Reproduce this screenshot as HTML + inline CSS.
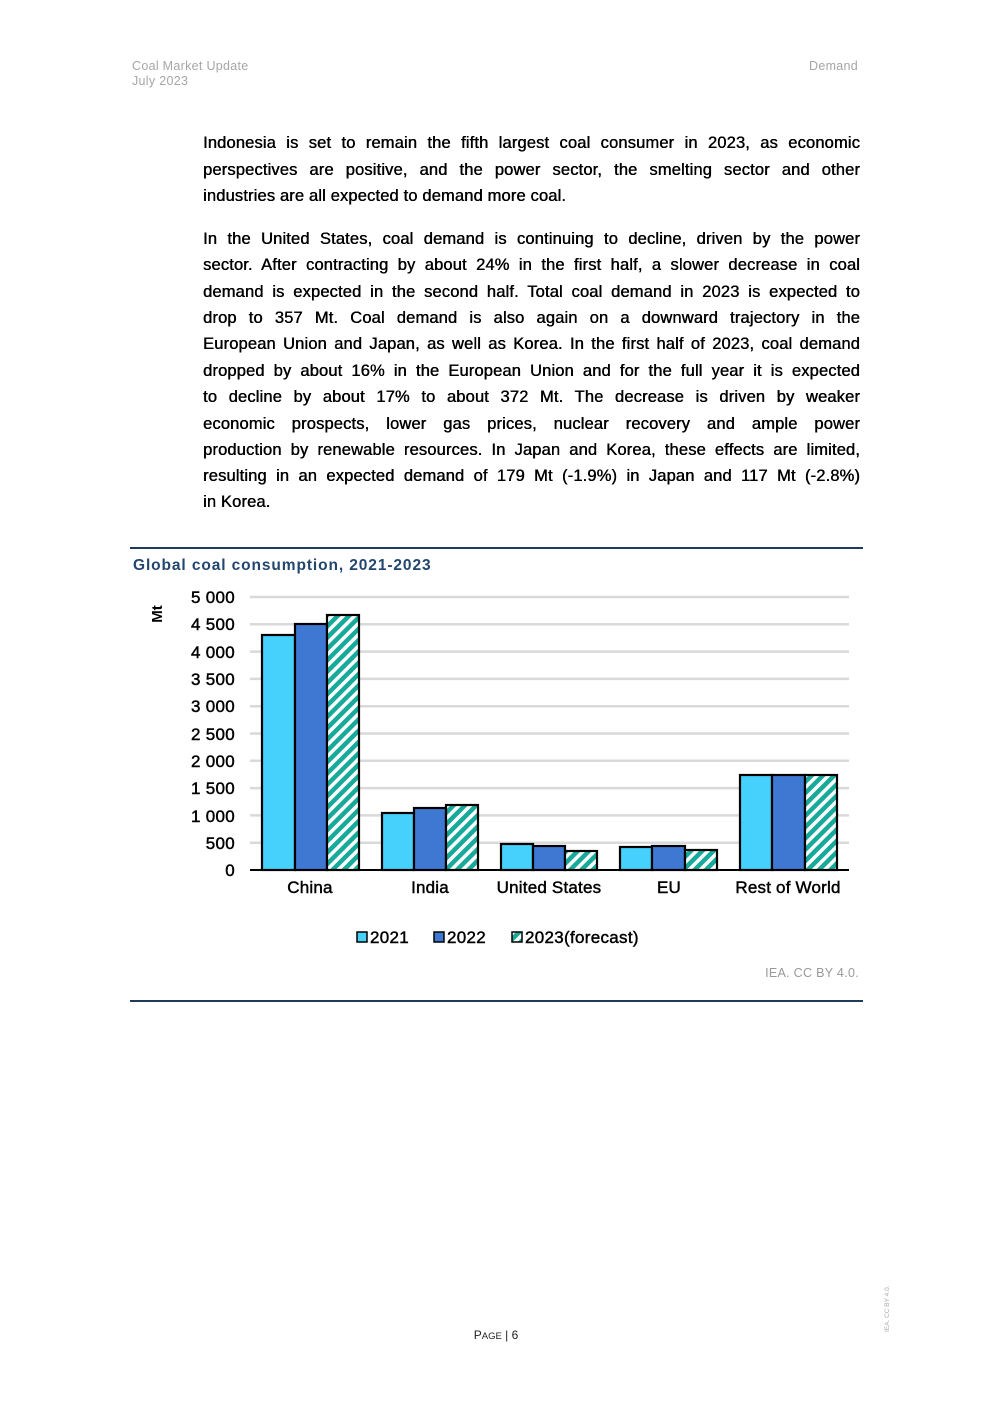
<!DOCTYPE html><html><head><meta charset="utf-8"><style>
body{margin:0;width:992px;height:1403px;background:#fff;position:relative;font-family:"Liberation Sans",sans-serif;overflow:hidden}
.h{position:absolute;color:#a6a6a6;font-size:12.5px;line-height:15px;letter-spacing:0.3px}
.l{position:absolute;left:203px;width:657px;font-size:16.5px;color:#000;text-align:justify;text-align-last:justify;white-space:nowrap;line-height:20px;text-shadow:0.35px 0 0 #000,0 0.2px 0 #000;letter-spacing:0.15px}
.l.e{text-align-last:left}
</style></head><body>
<div class="h" style="left:132px;top:59px">Coal Market Update<br>July 2023</div>
<div class="h" style="left:809px;top:59px">Demand</div>
<div class="l" style="top:133px">Indonesia is set to remain the fifth largest coal consumer in 2023, as economic</div>
<div class="l" style="top:160px">perspectives are positive, and the power sector, the smelting sector and other</div>
<div class="l e" style="top:186px">industries are all expected to demand more coal.</div>
<div class="l" style="top:229px">In the United States, coal demand is continuing to decline, driven by the power</div>
<div class="l" style="top:255px">sector. After contracting by about 24% in the first half, a slower decrease in coal</div>
<div class="l" style="top:282px">demand is expected in the second half. Total coal demand in 2023 is expected to</div>
<div class="l" style="top:308px">drop to 357 Mt. Coal demand is also again on a downward trajectory in the</div>
<div class="l" style="top:334px">European Union and Japan, as well as Korea. In the first half of 2023, coal demand</div>
<div class="l" style="top:361px">dropped by about 16% in the European Union and for the full year it is expected</div>
<div class="l" style="top:387px">to decline by about 17% to about 372 Mt. The decrease is driven by weaker</div>
<div class="l" style="top:414px">economic prospects, lower gas prices, nuclear recovery and ample power</div>
<div class="l" style="top:440px">production by renewable resources. In Japan and Korea, these effects are limited,</div>
<div class="l" style="top:466px">resulting in an expected demand of 179 Mt (-1.9%) in Japan and 117 Mt (-2.8%)</div>
<div class="l e" style="top:492px">in Korea.</div>
<svg style="position:absolute;left:0;top:0" width="992" height="1403" font-family="Liberation Sans, sans-serif">
<defs><pattern id="p" width="8" height="8" patternUnits="userSpaceOnUse" patternTransform="rotate(45)"><rect width="8" height="8" fill="#fff"/><rect width="4.5" height="8" fill="#17a99a"/></pattern></defs>
<line x1="130" y1="548" x2="863" y2="548" stroke="#1f3a5a" stroke-width="2"/>
<line x1="130" y1="1001" x2="863" y2="1001" stroke="#1f3a5a" stroke-width="2"/>
<text x="133" y="570" font-size="15.5" font-weight="bold" fill="#23466f" letter-spacing="0.9">Global coal consumption, 2021-2023</text>
<g stroke="#d9d9d9" stroke-width="2.5">
<line x1="250" x2="849" y1="597" y2="597"/><line x1="250" x2="849" y1="624.3" y2="624.3"/><line x1="250" x2="849" y1="651.6" y2="651.6"/><line x1="250" x2="849" y1="678.9" y2="678.9"/><line x1="250" x2="849" y1="706.2" y2="706.2"/><line x1="250" x2="849" y1="733.5" y2="733.5"/><line x1="250" x2="849" y1="760.8" y2="760.8"/><line x1="250" x2="849" y1="788.1" y2="788.1"/><line x1="250" x2="849" y1="815.4" y2="815.4"/><line x1="250" x2="849" y1="842.7" y2="842.7"/></g>
<g font-size="17" fill="#000" stroke="#000" stroke-width="0.45" text-anchor="end" letter-spacing="0.3">
<text x="235" y="603">5 000</text><text x="235" y="630">4 500</text><text x="235" y="658">4 000</text><text x="235" y="685">3 500</text><text x="235" y="712">3 000</text><text x="235" y="740">2 500</text><text x="235" y="767">2 000</text><text x="235" y="794">1 500</text><text x="235" y="822">1 000</text><text x="235" y="849">500</text><text x="235" y="876">0</text></g>
<text transform="translate(162,614) rotate(-90)" font-size="15" font-weight="bold" text-anchor="middle">Mt</text>
<g stroke="#000" stroke-width="2.2">
<rect x="262" y="635" width="33" height="235" fill="#45d1fb"/><rect x="295" y="624" width="32" height="246" fill="#3f78d3"/><rect x="327" y="615" width="32" height="255" fill="url(#p)"/>
<rect x="382" y="813" width="32" height="57" fill="#45d1fb"/><rect x="414" y="808" width="32" height="62" fill="#3f78d3"/><rect x="446" y="805" width="32" height="65" fill="url(#p)"/>
<rect x="501" y="844" width="32" height="26" fill="#45d1fb"/><rect x="533" y="846" width="32" height="24" fill="#3f78d3"/><rect x="565" y="851" width="32" height="19" fill="url(#p)"/>
<rect x="620" y="847" width="32" height="23" fill="#45d1fb"/><rect x="652" y="846" width="33" height="24" fill="#3f78d3"/><rect x="685" y="850" width="32" height="20" fill="url(#p)"/>
<rect x="740" y="775" width="32" height="95" fill="#45d1fb"/><rect x="772" y="775" width="33" height="95" fill="#3f78d3"/><rect x="805" y="775" width="32" height="95" fill="url(#p)"/>
</g>
<line x1="250" x2="849" y1="870" y2="870" stroke="#000" stroke-width="2"/>
<g font-size="17" text-anchor="middle" stroke="#000" stroke-width="0.45" letter-spacing="0.2"><text x="310" y="893">China</text><text x="430" y="893">India</text><text x="549" y="893">United States</text><text x="669" y="893">EU</text><text x="788" y="893">Rest of World</text></g>
<g stroke="#000" stroke-width="1.5"><rect x="357" y="932" width="10" height="10" fill="#45d1fb"/><rect x="434" y="932" width="10" height="10" fill="#3f78d3"/><rect x="512" y="932" width="10" height="10" fill="url(#p)"/></g>
<g font-size="17" stroke="#000" stroke-width="0.45" letter-spacing="0.3"><text x="370" y="943">2021</text><text x="447" y="943">2022</text><text x="525" y="943">2023(forecast)</text></g>
<text x="859" y="977" font-size="12.5" fill="#999" text-anchor="end" letter-spacing="0.3">IEA. CC BY 4.0.</text>
<text x="496" y="1339" font-size="12" text-anchor="middle" fill="#222">P<tspan font-size="9.5">AGE</tspan> | 6</text>
<text transform="translate(889,1332) rotate(-90)" font-size="6.5" fill="#aaa">IEA. CC BY 4.0.</text>
</svg>
</body></html>
